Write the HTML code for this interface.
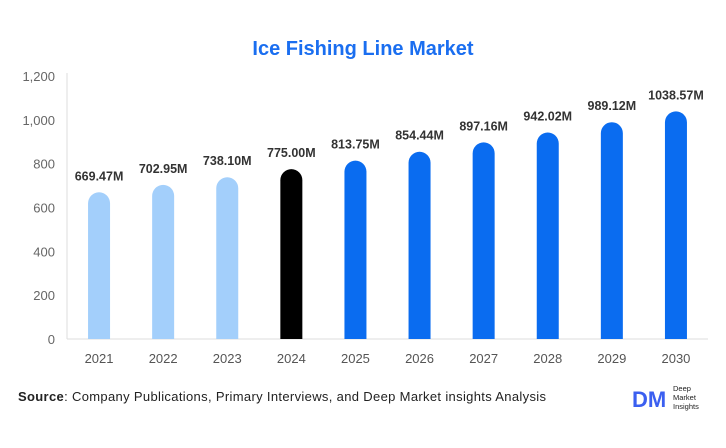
<!DOCTYPE html>
<html><head><meta charset="utf-8"><style>
body{margin:0;background:#fff;width:726px;height:443px;overflow:hidden;font-family:"Liberation Sans",sans-serif}
</style></head><body>
<svg id="c" width="726" height="443">
<text x="363" y="55" text-anchor="middle" font-size="20" font-weight="bold" fill="#1a6ef0">Ice Fishing Line Market</text>
<g id="axes"></g><g id="bars"></g>
<text x="18" y="401" font-size="13" fill="#222" textLength="528" lengthAdjust="spacing"><tspan font-weight="bold">Source</tspan>: Company Publications, Primary Interviews, and Deep Market insights Analysis</text>
<g>
<text x="632" y="407" font-size="22" font-weight="bold" fill="#3b5ff0">DM</text>
<text x="673" y="391" font-size="7.5" fill="#222">Deep</text>
<text x="673" y="400" font-size="7.5" fill="#222">Market</text>
<text x="673" y="409" font-size="7.5" fill="#222">Insights</text>
</g>
</svg>
<script>
const years=["2021","2022","2023","2024","2025","2026","2027","2028","2029","2030"];
const values=[669.47,702.95,738.10,775.00,813.75,854.44,897.16,942.02,989.12,1038.57];
const labels=["669.47M","702.95M","738.10M","775.00M","813.75M","854.44M","897.16M","942.02M","989.12M","1038.57M"];
const ticks=[0,200,400,600,800,1000,1200];
const NS="http://www.w3.org/2000/svg";
const y0=339,y1=76,left=67,right=708;
const y=v=>y0-(v/1200)*(y0-y1);
const step=(right-left)/years.length;
const x=i=>left+step*(i+0.5);
function mk(t,a,p){const e=document.createElementNS(NS,t);for(const k in a)e.setAttribute(k,a[k]);p.appendChild(e);return e;}
const ax=document.getElementById('axes'),bg=document.getElementById('bars');
const al=mk('line',{x1:left,y1:y0,x2:right,y2:y0,stroke:'#ddd'},ax);


const yl=mk('line',{x1:left,y1:y1-3,x2:left,y2:y0,stroke:'#ddd'},ax);


ticks.forEach(t=>{const e=mk('text',{x:55,y:y(t)+5,'text-anchor':'end','font-size':13,fill:'#666'},ax);e.textContent=t.toLocaleString('en-US');

});
years.forEach((yr,i)=>{
const w=22,cx=x(i),top=y(values[i]);
const col=i<3?'#a3cffb':(i==3?'#000':'#0a6cf0');
const p=mk('path',{d:`M${cx-w/2},${y0} L${cx-w/2},${top+w/2} A${w/2},${w/2} 0 0 1 ${cx+w/2},${top+w/2} L${cx+w/2},${y0} Z`,fill:col},bg);


const l=mk('text',{x:cx,y:top-12,'text-anchor':'middle','font-size':12.5,'font-weight':'bold',fill:'#333'},bg);l.textContent=labels[i];


const t=mk('text',{x:cx,y:363,'text-anchor':'middle','font-size':13,fill:'#555'},bg);t.textContent=yr;


});
</script>
</body></html>
